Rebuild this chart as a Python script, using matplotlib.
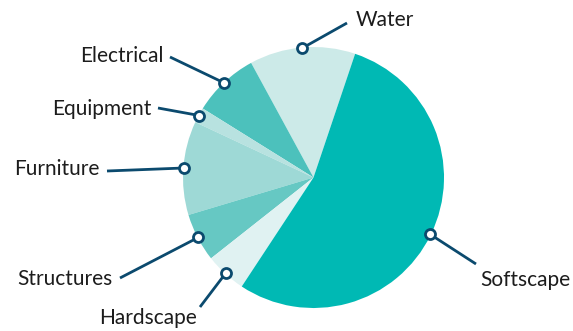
import numpy as np
import matplotlib
matplotlib.use("Agg")
import matplotlib.pyplot as plt

plt.rcParams["font.family"] = ["Lato", "DejaVu Sans"]

# cost share per category, counter-clockwise from the Water slice
categories = ["Water", "Electrical", "Equipment", "Furniture", "Structures", "Hardscape", "Softscape"]
shares = [13.1, 8.2, 1.9, 11.6, 6.0, 5.1, 54.1]
colors = ["#cceae8", "#4cc1bc", "#b8e2e0", "#9ed9d6", "#66c8c3", "#e0f2f2", "#00b9b4"]

# label anchor (pixels) and where the leader line stops (pixels)
label_xy = [(356, 20), (164, 56), (152, 109), (100, 169), (113, 279), (148, 318), (480, 280)]
label_ha = ["left", "right", "right", "right", "right", "center", "left"]
elbow_xy = [(347, 23), (170, 57), (158, 108), (107, 171), (120, 278), (200, 307), (476, 264)]

W, H = 573, 331
CX, CY, R = 313.5, 177.5, 130.5
LINE = "#0b4a6e"


def to_data(p):
    return ((p[0] - CX) / R, (CY - p[1]) / R)


fig = plt.figure(figsize=(W / 100, H / 100), dpi=100)
ax = fig.add_axes([0, 0, 1, 1])
wedges, _ = ax.pie(shares, colors=colors, startangle=71.4, counterclock=True,
                   radius=1.0, center=(0, 0), wedgeprops=dict(linewidth=0))
ax.set_xlim(-CX / R, (W - CX) / R)
ax.set_ylim(-(H - CY) / R, CY / R)
ax.set_aspect("equal")
ax.axis("off")

for w, name, lxy, ha, exy in zip(wedges, categories, label_xy, label_ha, elbow_xy):
    mid = np.deg2rad((w.theta1 + w.theta2) / 2)
    mx, my = np.cos(mid) * 0.995, np.sin(mid) * 0.995
    ex, ey = to_data(exy)
    ax.plot([mx, ex], [my, ey], color=LINE, lw=2, solid_capstyle="butt", zorder=3)
    ax.plot(mx, my, "o", ms=7.2, mfc="white", mec=LINE, mew=2.0, zorder=4)
    tx, ty = to_data(lxy)
    ax.text(tx, ty, name, ha=ha, va="center", fontsize=15, color="#1c1c1c")

fig.savefig("out.png", dpi=100)
